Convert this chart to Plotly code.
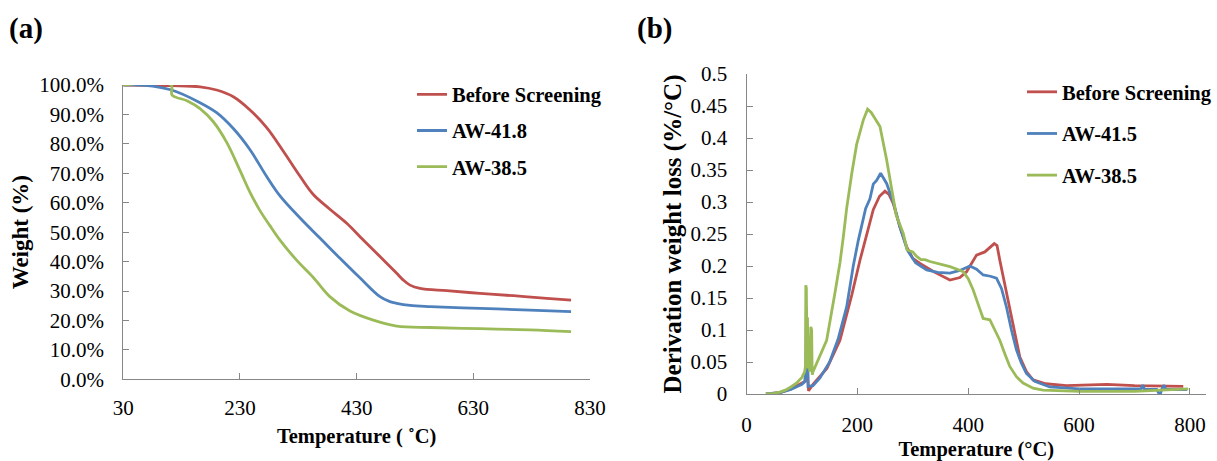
import plotly.graph_objects as go

# ---------------- (a) TG curves ----------------
tg_names = ["Before Screening", "AW-41.8", "AW-38.5"]

tg_red_t = [30, 113, 161.5, 190, 218.6, 247.2, 275.8, 304.3, 333, 355.7, 384.2, 413, 441.4,
            470, 498.7, 510, 521.5, 538.6, 584.4, 641.5, 698.6, 755.8, 797.5]
tg_red_w = [100, 99.8, 99.4, 98.3, 96.0, 91.5, 85.5, 77.5, 69.0, 62.8, 57.8, 53.0, 47.3,
            41.7, 36.0, 33.7, 32.0, 30.9, 30.1, 29.2, 28.4, 27.5, 26.9]

tg_blue_t = [30, 67, 113, 161.5, 190, 218.6, 247.2, 275.8, 298.6, 333, 367, 401, 436,
             470, 487, 498.7, 521.5, 556, 641.5, 727, 797.5]
tg_blue_w = [100, 99.9, 98.3, 94.0, 90.6, 85.2, 78.0, 68.9, 62.3, 54.8, 48.0, 41.2, 34.4,
             28.1, 26.4, 25.8, 25.1, 24.7, 24.1, 23.5, 23.0]

tg_green_t = [30, 112, 113.5, 140, 161.5, 184, 207, 230, 247, 264, 281, 298.6, 327, 355.7,
              384, 418.6, 458.6, 498.7, 556, 641.5, 727, 797.5]
tg_green_w = [100, 100, 96.6, 94.6, 92.0, 87.6, 80.6, 71.0, 63.6, 57.4, 52.3, 47.3, 40.5,
              34.6, 28.1, 23.2, 20.1, 18.1, 17.6, 17.2, 16.8, 16.2]

tg_x_ticks = [30, 230, 430, 630, 830]

# ---------------- (b) DTG curves ----------------
dtg_names = ["Before Screening", "AW-41.5", "AW-38.5"]

dtg_red_t = [35, 60, 80, 100, 106, 108, 110, 111, 112, 120, 145, 168.6, 190, 204.7, 216.8,
             228.7, 240, 249.8, 257, 264.7, 277, 289, 300, 313, 340, 367, 385, 397, 415, 430,
             447, 452, 457, 466, 475, 484, 493, 505, 517, 540, 577, 650, 700, 788]
dtg_red_v = [0, 0.002, 0.008, 0.017, 0.02, 0.03, 0.044, 0.02, 0.005, 0.015, 0.04, 0.084,
             0.155, 0.209, 0.25, 0.288, 0.309, 0.317, 0.312, 0.298, 0.26, 0.23, 0.212, 0.204,
             0.19, 0.178, 0.182, 0.191, 0.217, 0.222, 0.235, 0.232, 0.209, 0.17, 0.136,
             0.095, 0.058, 0.035, 0.022, 0.016, 0.013, 0.015, 0.013, 0.012]

dtg_blue_t = [35, 60, 80, 100, 105, 107, 108, 109, 110, 111, 120, 132.5, 150, 165, 180.7,
              192.6, 201.7, 215, 222.7, 228.7, 235, 242, 252.8, 264.7, 276.8, 290, 305, 325,
              345, 367, 385, 403, 415, 427, 440, 451, 460, 469, 478, 487, 496, 505, 520, 547,
              600, 700, 712, 715, 718, 740, 746, 749, 753, 757, 780, 795]
dtg_blue_v = [0, 0.002, 0.007, 0.015, 0.019, 0.04, 0.135, 0.05, 0.09, 0.012, 0.013, 0.025,
              0.05, 0.085, 0.136, 0.2, 0.24, 0.29, 0.305, 0.328, 0.334, 0.345, 0.329, 0.30,
              0.261, 0.225, 0.205, 0.194, 0.19, 0.189, 0.193, 0.2, 0.195, 0.186, 0.184, 0.181,
              0.165, 0.136, 0.1, 0.069, 0.048, 0.032, 0.02, 0.011, 0.008, 0.007, 0.008, 0.014,
              0.007, 0.007, -0.002, 0.007, 0.014, 0.007, 0.007, 0.007]

dtg_green_t = [35, 50, 60, 70, 80, 90, 100, 105, 106.5, 107, 108, 109, 110, 111, 112, 114,
               116, 117.5, 118.5, 120, 130, 144.6, 160, 168.6, 174.6, 180.7, 190, 198.7,
               210.7, 218.5, 225, 240.8, 252.8, 264.7, 270, 282.8, 290, 300, 307, 315, 322,
               331, 345, 367, 380, 391, 400, 409, 418, 427, 433, 439, 448, 457, 466, 475, 487,
               499, 517, 535, 600, 700, 797]
dtg_green_v = [0, 0.001, 0.003, 0.006, 0.011, 0.017, 0.026, 0.035, 0.045, 0.17, 0.165, 0.06,
               0.12, 0.04, 0.09, 0.035, 0.105, 0.10, 0.03, 0.035, 0.055, 0.084, 0.16, 0.205,
               0.245, 0.29, 0.345, 0.39, 0.428, 0.445, 0.44, 0.418, 0.366, 0.303, 0.28, 0.251,
               0.225, 0.222, 0.215, 0.21, 0.21, 0.207, 0.204, 0.199, 0.195, 0.191, 0.18,
               0.1625, 0.14, 0.118, 0.117, 0.116, 0.1, 0.084, 0.063, 0.043, 0.027, 0.017,
               0.009, 0.006, 0.004, 0.004, 0.008]

colors = ["#C0504D", "#4F81BD", "#9BBB59"]
FONT = "Liberation Serif"
AXC = "#868686"

fig = go.Figure()

tg_series = [(tg_red_t, tg_red_w), (tg_blue_t, tg_blue_w), (tg_green_t, tg_green_w)]
for i, (t, w) in enumerate(tg_series):
    fig.add_trace(go.Scatter(x=t, y=w, mode="lines", name=tg_names[i],
                             line=dict(color=colors[i], width=2.8, shape="spline", smoothing=1.0),
                             xaxis="x", yaxis="y", legend="legend",
                             legendgroup="a%d" % i))

dtg_series = [(dtg_red_t, dtg_red_v), (dtg_blue_t, dtg_blue_v), (dtg_green_t, dtg_green_v)]
for i, (t, v) in enumerate(dtg_series):
    fig.add_trace(go.Scatter(x=t, y=v, mode="lines", name=dtg_names[i],
                             line=dict(color=colors[i], width=2.8),
                             xaxis="x2", yaxis="y2", legend="legend2",
                             legendgroup="b%d" % i))

W, H = 1217, 461

def px_x(p):
    return p / W

def px_y(p):
    return 1 - p / H

tick_font = dict(family=FONT, size=21, color="#000000")
title_font = dict(family=FONT, size=20.5, color="#000000", weight="bold")
ytitle_font = dict(family=FONT, size=23, color="#000000", weight="bold")
ytitle2_font = dict(family=FONT, size=25, color="#000000", weight="bold")
legend_font = dict(family=FONT, size=20.5, color="#000000", weight="bold")

common = dict(showgrid=False, zeroline=False, showline=True, linecolor=AXC, linewidth=1,
              ticks="inside", ticklen=6, tickcolor=AXC, tickfont=tick_font, automargin=False)

fig.update_layout(
    width=W, height=H,
    margin=dict(l=0, r=0, t=0, b=0),
    paper_bgcolor="white", plot_bgcolor="white",
    font=dict(family=FONT, color="#000000"),
    xaxis=dict(domain=[px_x(123.3), px_x(590)], range=[30, 830], tickvals=tg_x_ticks,
               title=dict(text="Temperature ( ˚C)", font=title_font, standoff=10),
               ticklabelstandoff=9, anchor="y", **common),
    yaxis=dict(domain=[px_y(379.3), px_y(85)], range=[0, 100], dtick=10,
               tickformat=".1f", ticksuffix="%",
               title=dict(text="Weight (%)", font=ytitle_font, standoff=4),
               ticklabelstandoff=14, anchor="x", **common),
    xaxis2=dict(domain=[px_x(746.5), px_x(1206)], range=[0, 829], tick0=0, dtick=200,
                title=dict(text="Temperature (°C)", font=title_font, standoff=6),
                ticklabelstandoff=12, anchor="y2", **common),
    yaxis2=dict(domain=[px_y(394), px_y(74)], range=[0, 0.5], tick0=0, dtick=0.05,
                title=dict(text="Derivation weight loss (%/°C)", font=ytitle2_font, standoff=1),
                ticklabelstandoff=14, anchor="x2", **common),
    legend=dict(x=px_x(412), y=px_y(74.5), xanchor="left", yanchor="top",
                font=legend_font, bgcolor="rgba(0,0,0,0)", tracegroupgap=6.5, itemwidth=30),
    legend2=dict(x=px_x(1022), y=px_y(72), xanchor="left", yanchor="top",
                 font=legend_font, bgcolor="rgba(0,0,0,0)", tracegroupgap=12, itemwidth=30),
    annotations=[
        dict(text="(a)", x=px_x(7), y=px_y(28), xref="paper", yref="paper",
             xanchor="left", yanchor="middle", showarrow=False,
             font=dict(family=FONT, size=29, color="#000000", weight="bold")),
        dict(text="(b)", x=px_x(635), y=px_y(28), xref="paper", yref="paper",
             xanchor="left", yanchor="middle", showarrow=False,
             font=dict(family=FONT, size=29, color="#000000", weight="bold")),
    ],
    showlegend=True,
)

fig.write_html("out.html")
